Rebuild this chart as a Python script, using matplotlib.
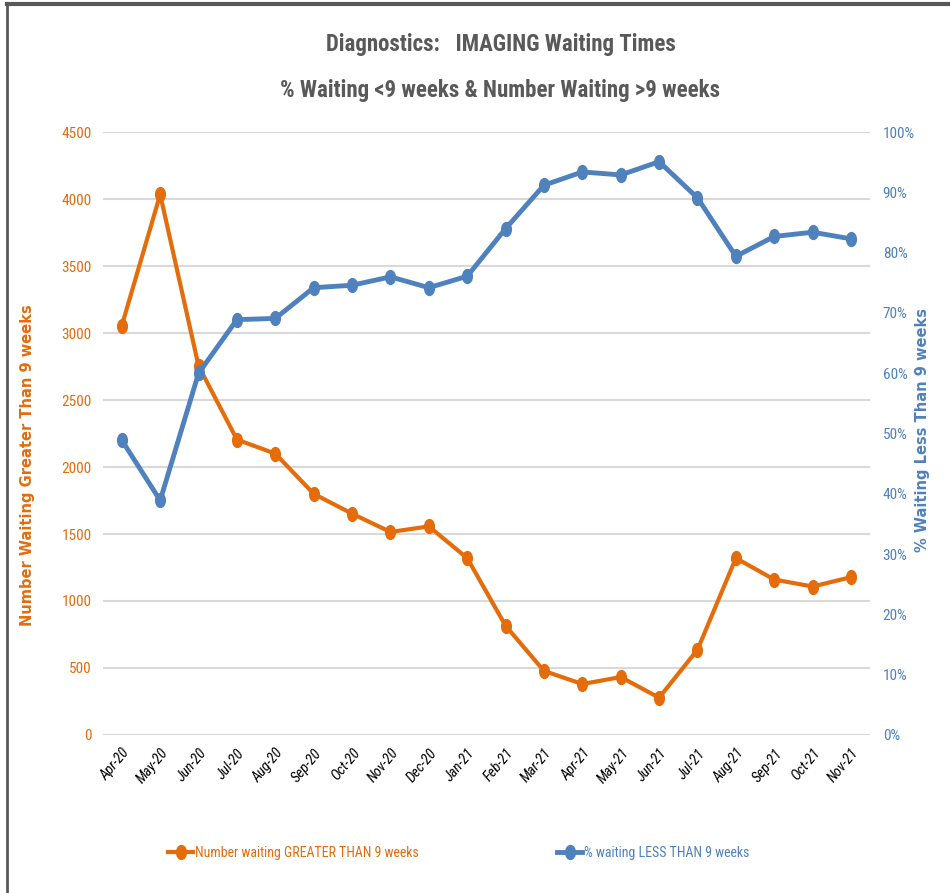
import numpy as np
import matplotlib.pyplot as plt
from matplotlib.path import Path
from matplotlib.transforms import Affine2D
from matplotlib import font_manager

# Datos
months = ["Apr-20", "May-20", "Jun-20", "Jul-20", "Aug-20", "Sep-20", "Oct-20",
          "Nov-20", "Dec-20", "Jan-21", "Feb-21", "Mar-21", "Apr-21", "May-21",
          "Jun-21", "Jul-21", "Aug-21", "Sep-21", "Oct-21", "Nov-21"]
num_greater = [3055, 4035, 2755, 2205, 2100, 1800, 1652, 1515, 1557, 1320,
               815, 478, 380, 432, 278, 636, 1320, 1160, 1108, 1178]
pct_less = [48.9, 38.9, 60.0, 68.9, 69.1, 74.2, 74.6, 76.0, 74.2, 76.1,
            84.0, 91.2, 93.4, 92.9, 95.1, 89.1, 79.4, 82.7, 83.4, 82.3]

orange = "#E46C0A"
blue = "#4F81BD"

# fuente estrecha si existe
names = {f.name for f in font_manager.fontManager.ttflist}
narrow = "DejaVu Sans"
for cand in ["Liberation Sans Narrow", "Roboto Condensed", "DejaVu Sans Condensed"]:
    if cand in names:
        narrow = cand
        break

# marcador elíptico (como en Excel)
ellipse = Path.unit_circle().transformed(Affine2D().scale(0.7, 1.0))

fig = plt.figure(figsize=(9.5, 8.93), dpi=100)
ax = fig.add_axes([0.108, 0.177, 0.808, 0.675])
ax2 = ax.twinx()

x = np.arange(len(months))
ax.plot(x, num_greater, color=orange, lw=3, marker=ellipse, ms=10,
        label="Number waiting GREATER THAN 9 weeks", zorder=3)
ax2.plot(x, pct_less, color=blue, lw=3.5, marker=ellipse, ms=10,
         label="% waiting LESS THAN 9 weeks", zorder=3)

ax.set_xlim(-0.5, len(x) - 0.5)
ax.set_ylim(0, 4500)
ax.set_yticks(np.arange(0, 4501, 500))
ax2.set_ylim(0, 100)
ax2.set_yticks(np.arange(0, 101, 10))
ax2.set_yticklabels([f"{v}%" for v in range(0, 101, 10)])

ax.yaxis.grid(True, color="#D9D9D9", lw=1.5)
ax.set_axisbelow(True)
for a in (ax, ax2):
    for s in a.spines.values():
        s.set_visible(False)
    a.tick_params(length=0)

ax.set_xticks(x)
ax.set_xticklabels(months, rotation=50, ha="right", rotation_mode="anchor",
                   fontsize=10.5, family=narrow, style="italic")
ax.tick_params(axis="x", pad=8)
ax.tick_params(axis="y", colors=orange, pad=8)
ax2.tick_params(axis="y", colors=blue, pad=9)
for lbl in ax.get_yticklabels() + ax2.get_yticklabels():
    lbl.set_family(narrow)
    lbl.set_fontsize(11)

ax.set_ylabel("Number Waiting Greater Than 9 weeks", color=orange,
              fontsize=10.5, fontweight="bold", family="DejaVu Sans")
ax.yaxis.set_label_coords(-0.088, 0.448)
ax2.set_ylabel("% Waiting Less Than 9 weeks", color=blue,
               fontsize=10.5, fontweight="bold", family="DejaVu Sans")
ax2.yaxis.set_label_coords(1.059, 0.506)

fig.text(0.527, 0.95, "Diagnostics:   IMAGING Waiting Times", ha="center",
         va="center", fontsize=16.5, color="#595959", family=narrow,
         fontweight="bold")
fig.text(0.526, 0.899, "% Waiting <9 weeks & Number Waiting >9 weeks", ha="center",
         va="center", fontsize=16.5, color="#595959", family=narrow,
         fontweight="bold")

h1, l1 = ax.get_legend_handles_labels()
h2, l2 = ax2.get_legend_handles_labels()
leg = fig.legend(h1 + h2, l1 + l2, loc="center", bbox_to_anchor=(0.483, 0.045),
                 ncol=2, frameon=False, columnspacing=10, handlelength=1.8,
                 handletextpad=0.1, prop={"family": narrow, "size": 10})
for t, c in zip(leg.get_texts(), [orange, blue]):
    t.set_color(c)

# borde
fig.add_artist(plt.Line2D([0.007, 0.007], [0, 0.996], color="#595959", lw=2))
fig.add_artist(plt.Line2D([0.007, 1], [0.996, 0.996], color="#595959", lw=3))

fig.savefig("out.png", dpi=100)
